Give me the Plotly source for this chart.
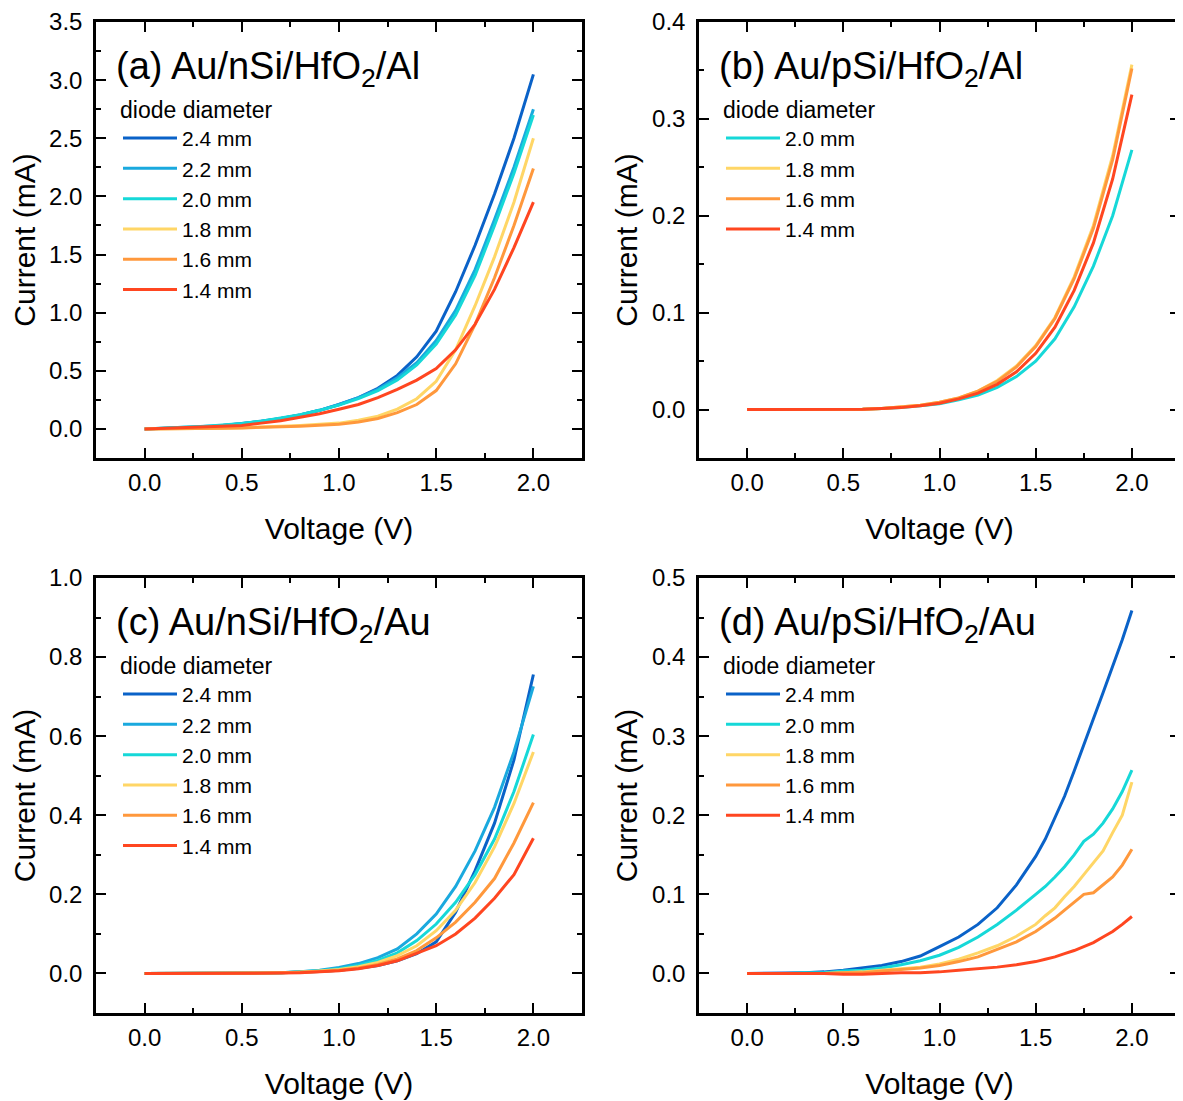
import plotly.graph_objects as go

# ==========================================
# 1. Data
# ==========================================

VOLTAGE = [0.0, 0.1, 0.2, 0.3, 0.4, 0.5, 0.6, 0.7, 0.8, 0.9, 1.0,
           1.1, 1.2, 1.3, 1.4, 1.5, 1.6, 1.7, 1.8, 1.9, 2.0]
VOLTAGE_D = [0.0, 0.1, 0.2, 0.3, 0.4, 0.5, 0.6, 0.7, 0.8, 0.9, 1.0,
             1.1, 1.2, 1.3, 1.4, 1.5, 1.55, 1.6, 1.65, 1.7, 1.75,
             1.8, 1.85, 1.9, 1.95, 2.0]

# (a) Au/nSi/HfO2/Al
A_24 = [0, 0.005, 0.01, 0.015, 0.03, 0.045, 0.065, 0.09, 0.12, 0.16, 0.21,
        0.27, 0.35, 0.46, 0.62, 0.84, 1.18, 1.58, 2.02, 2.5, 3.05]
A_22 = [0, 0.008, 0.012, 0.02, 0.03, 0.045, 0.065, 0.09, 0.12, 0.16, 0.21,
        0.27, 0.34, 0.44, 0.57, 0.76, 1.02, 1.37, 1.8, 2.25, 2.75]
A_20 = [0, 0.01, 0.014, 0.022, 0.032, 0.047, 0.067, 0.092, 0.122, 0.16, 0.205,
        0.26, 0.33, 0.42, 0.55, 0.73, 0.98, 1.32, 1.75, 2.2, 2.7]
A_18 = [0, 0.0, 0.002, 0.004, 0.006, 0.01, 0.015, 0.02, 0.03, 0.04, 0.05,
        0.075, 0.11, 0.17, 0.26, 0.41, 0.68, 1.06, 1.48, 1.95, 2.5]
A_16 = [0, 0.0, 0.001, 0.003, 0.005, 0.008, 0.012, 0.017, 0.024, 0.032, 0.04,
        0.06, 0.09, 0.14, 0.21, 0.33, 0.56, 0.9, 1.3, 1.75, 2.24]
A_14 = [0, 0.005, 0.01, 0.015, 0.02, 0.03, 0.05, 0.07, 0.1, 0.13, 0.17,
        0.21, 0.27, 0.34, 0.42, 0.52, 0.68, 0.9, 1.2, 1.56, 1.95]

# (b) Au/pSi/HfO2/Al
B_20 = [0, 0, 0, 0, 0, 0, 0.0003, 0.001, 0.002, 0.004, 0.006,
        0.01, 0.015, 0.023, 0.034, 0.05, 0.073, 0.106, 0.148, 0.2, 0.268]
B_18 = [0, 0, 0, 0, 0, 0, 0.0004, 0.0012, 0.0025, 0.0045, 0.0075,
        0.012, 0.019, 0.03, 0.045, 0.066, 0.095, 0.137, 0.19, 0.262, 0.356]
B_16 = [0, 0, 0, 0, 0, 0, 0.0004, 0.0012, 0.0025, 0.0045, 0.0075,
        0.012, 0.019, 0.029, 0.044, 0.065, 0.094, 0.135, 0.187, 0.258, 0.352]
B_14 = [0, 0, 0, 0, 0, 0, 0.0003, 0.001, 0.002, 0.004, 0.0065,
        0.011, 0.017, 0.026, 0.039, 0.058, 0.085, 0.123, 0.172, 0.238, 0.325]

# (c) Au/nSi/HfO2/Au
C_24 = [0, 0, 0, 0, 0, 0, 0.001, 0.002, 0.003, 0.005, 0.008,
        0.013, 0.02, 0.032, 0.05, 0.08, 0.155, 0.26, 0.38, 0.54, 0.756]
C_22 = [0, 0, 0, 0, 0, 0, 0.001, 0.002, 0.004, 0.008, 0.015,
        0.025, 0.04, 0.062, 0.1, 0.15, 0.22, 0.31, 0.42, 0.56, 0.726]
C_20 = [0, 0, 0, 0, 0, 0, 0.001, 0.002, 0.004, 0.007, 0.012,
        0.02, 0.033, 0.052, 0.083, 0.125, 0.18, 0.25, 0.34, 0.46, 0.604]
C_18 = [0, 0, 0, 0, 0, 0, 0.001, 0.002, 0.003, 0.006, 0.01,
        0.017, 0.028, 0.045, 0.07, 0.108, 0.16, 0.23, 0.32, 0.43, 0.56]
C_16 = [0, 0, 0, 0, 0, 0, 0.001, 0.002, 0.003, 0.005, 0.008,
        0.014, 0.023, 0.037, 0.058, 0.09, 0.13, 0.18, 0.24, 0.33, 0.432]
C_14 = [0, 0, 0, 0, 0, 0, 0, 0.001, 0.002, 0.004, 0.007,
        0.012, 0.02, 0.032, 0.05, 0.07, 0.1, 0.14, 0.19, 0.25, 0.342]

# (d) Au/pSi/HfO2/Au
D_24 = [0, 0, 0.0005, 0.001, 0.002, 0.004, 0.007, 0.01, 0.015, 0.022, 0.034,
        0.046, 0.062, 0.083, 0.112, 0.148, 0.17, 0.196, 0.224, 0.256, 0.29,
        0.322, 0.355, 0.388, 0.422, 0.459]
D_20 = [0, 0, 0, 0.001, 0.001, 0.003, 0.004, 0.007, 0.011, 0.016, 0.023,
        0.033, 0.046, 0.062, 0.08, 0.1, 0.11, 0.122, 0.135, 0.15, 0.167,
        0.176, 0.19, 0.208, 0.23, 0.257]
D_18 = [0, 0, 0, 0, 0, 0.001, 0.002, 0.004, 0.006, 0.008, 0.012,
        0.018, 0.026, 0.035, 0.047, 0.062, 0.073, 0.083, 0.097, 0.11, 0.125,
        0.14, 0.155, 0.178, 0.2, 0.242]
D_16 = [0, 0, 0, 0, 0, 0.001, 0.001, 0.003, 0.005, 0.007, 0.01,
        0.015, 0.021, 0.03, 0.04, 0.053, 0.061, 0.07, 0.08, 0.09, 0.1,
        0.102, 0.112, 0.122, 0.137, 0.157]
D_14 = [0, 0, 0, 0, 0, -0.001, -0.001, 0, 0.001, 0.001, 0.002,
        0.004, 0.006, 0.008, 0.011, 0.015, 0.018, 0.021, 0.025, 0.029, 0.034,
        0.039, 0.046, 0.053, 0.062, 0.072]

COLORS = {
    "2.4 mm": "#0a62c8",
    "2.2 mm": "#1aa9de",
    "2.0 mm": "#16d8d8",
    "1.8 mm": "#ffd666",
    "1.6 mm": "#ff983c",
    "1.4 mm": "#ff4620",
}

PANELS = [
    dict(title="(a) Au/nSi/HfO<sub>2</sub>/Al", x=VOLTAGE,
         series=[("2.4 mm", A_24), ("2.2 mm", A_22), ("2.0 mm", A_20),
                 ("1.8 mm", A_18), ("1.6 mm", A_16), ("1.4 mm", A_14)],
         yrange=[-0.25, 3.5], ydtick=0.5),
    dict(title="(b) Au/pSi/HfO<sub>2</sub>/Al", x=VOLTAGE,
         series=[("2.0 mm", B_20), ("1.8 mm", B_18), ("1.6 mm", B_16),
                 ("1.4 mm", B_14)],
         yrange=[-0.05, 0.4], ydtick=0.1),
    dict(title="(c) Au/nSi/HfO<sub>2</sub>/Au", x=VOLTAGE,
         series=[("2.4 mm", C_24), ("2.2 mm", C_22), ("2.0 mm", C_20),
                 ("1.8 mm", C_18), ("1.6 mm", C_16), ("1.4 mm", C_14)],
         yrange=[-0.1, 1.0], ydtick=0.2),
    dict(title="(d) Au/pSi/HfO<sub>2</sub>/Au", x=VOLTAGE_D,
         series=[("2.4 mm", D_24), ("2.0 mm", D_20), ("1.8 mm", D_18),
                 ("1.6 mm", D_16), ("1.4 mm", D_14)],
         yrange=[-0.05, 0.5], ydtick=0.1),
]

# ==========================================
# 2. Layout geometry (pixels of the 1183x1101 page)
# ==========================================

PAGE_W, PAGE_H = 1183, 1101
BODY = 8  # default page margin round the plot div
W, H = PAGE_W - BODY, PAGE_H - BODY
FONT = "Liberation Sans, Arial, sans-serif"
# plot boxes on the page: (left, right, top, bottom) in pixels
BOXES = [(96, 582, 22, 458), (699, 1180, 22, 458),
         (96, 582, 578, 1013), (699, 1180, 578, 1013)]


def px_x(p):
    return (p - BODY) / W


def px_y(p):
    return 1 - (p - BODY) / H


fig = go.Figure()

for i, (panel, box) in enumerate(zip(PANELS, BOXES)):
    n = "" if i == 0 else str(i + 1)
    legend_id = "legend" + n
    for name, vals in panel["series"]:
        fig.add_trace(go.Scatter(
            x=panel["x"], y=vals, mode="lines", name=name,
            line=dict(color=COLORS[name], width=3),
            xaxis="x" + n, yaxis="y" + n, legend=legend_id,
            hoverinfo="skip",
        ))

    left, right, top, bottom = box
    axis_common = dict(
        showline=True, linecolor="black", linewidth=2.5, mirror="allticks",
        ticks="inside", ticklen=10, tickwidth=2, tickcolor="black",
        showgrid=False, zeroline=False, automargin=False,
        tickfont=dict(family=FONT, size=24, color="black"),
        title_font=dict(family=FONT, size=30, color="black"),
    )
    fig.update_layout({
        "xaxis" + n: dict(
            axis_common, domain=[px_x(left), px_x(right)],
            anchor="y" + n, range=[-0.25, 2.25], dtick=0.5, tick0=0,
            tickformat=".1f", ticklabelstandoff=1,
            title=dict(text="Voltage (V)", standoff=24),
            minor=dict(ticks="inside", ticklen=5, tickwidth=2,
                       tickcolor="black", dtick=0.25, tick0=0),
        ),
        "yaxis" + n: dict(
            axis_common, domain=[px_y(bottom), px_y(top)],
            anchor="x" + n, range=panel["yrange"], dtick=panel["ydtick"],
            tick0=0, tickformat=".1f", ticklabelstandoff=6,
            title=dict(text="Current (mA)", standoff=6),
            minor=dict(ticks="inside", ticklen=5, tickwidth=2,
                       tickcolor="black", dtick=panel["ydtick"] / 2, tick0=0),
        ),
        legend_id: dict(
            x=px_x(left + 22), y=px_y(top + 66), xanchor="left", yanchor="top",
            bgcolor="rgba(0,0,0,0)", borderwidth=0,
            title=dict(text="diode diameter", side="top",
                       font=dict(family=FONT, size=23, color="black")),
            font=dict(family=FONT, size=21, color="black"),
            itemwidth=54, tracegroupgap=0,
        ),
    })
    fig.add_annotation(
        text=panel["title"], xref="paper", yref="paper",
        x=px_x(left + 18), y=px_y(top + 47), xanchor="left", yanchor="middle",
        showarrow=False, font=dict(family=FONT, size=38, color="black"),
    )

fig.update_layout(
    width=W, height=H,
    margin=dict(l=0, r=0, t=0, b=0),
    paper_bgcolor="white", plot_bgcolor="white",
    showlegend=True,
)

fig.write_html("out.html")
